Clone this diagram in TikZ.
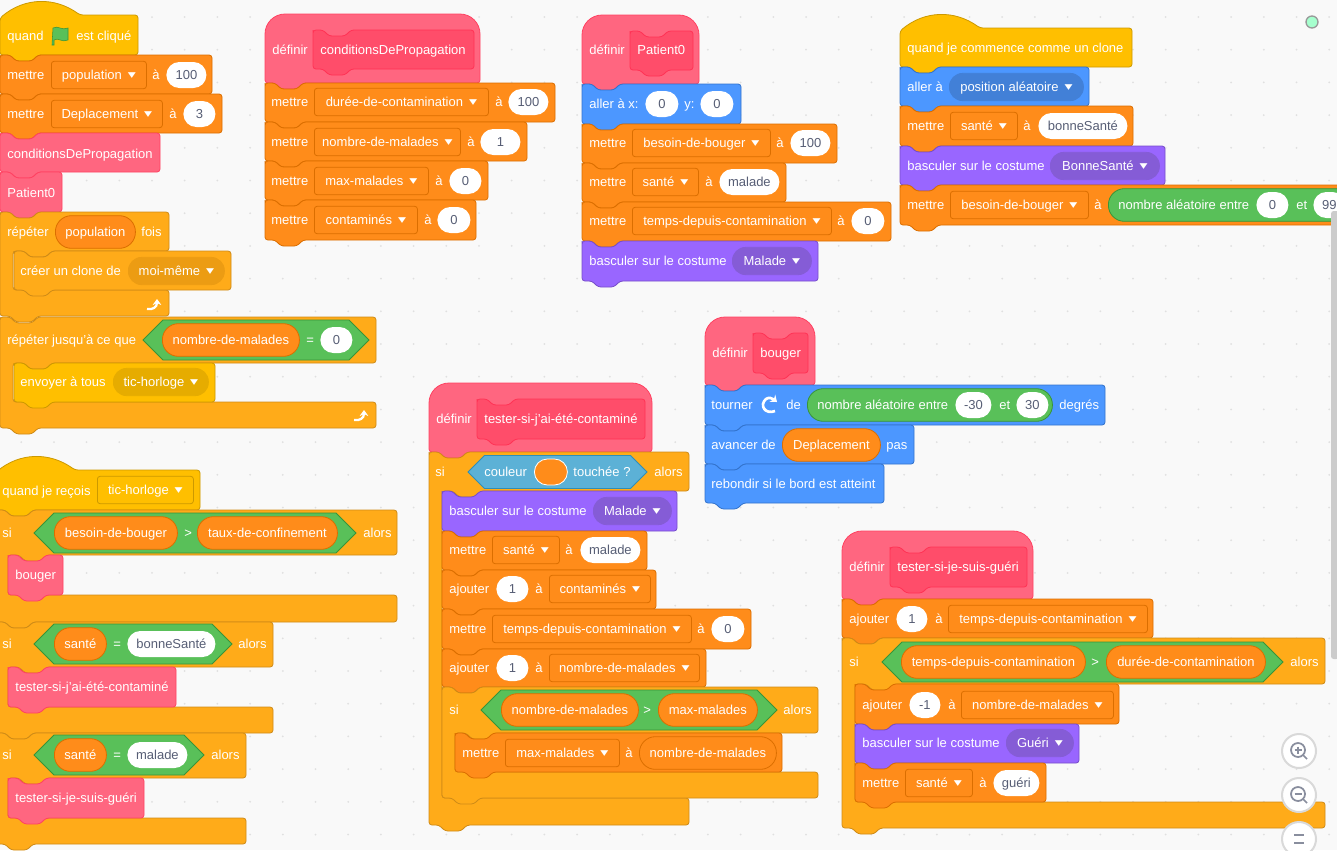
\documentclass[tikz,border=0pt]{standalone}
\usepackage{graphicx}
\usepackage{fontspec}
\setmainfont{Liberation Sans}
\newfontfamily\symfont{DejaVu Sans}
\usetikzlibrary{arrows.meta}
\definecolor{bgc}{HTML}{F9F9F9}
\definecolor{motionc}{HTML}{4C97FF}
\definecolor{motiond}{HTML}{3373CC}
\definecolor{motionm}{HTML}{4280D7}
\definecolor{looksc}{HTML}{9966FF}
\definecolor{looksd}{HTML}{774DCB}
\definecolor{looksm}{HTML}{855CD6}
\definecolor{ctrlc}{HTML}{FFAB19}
\definecolor{ctrld}{HTML}{CF8B17}
\definecolor{ctrlm}{HTML}{EC9C13}
\definecolor{eventc}{HTML}{FFBF00}
\definecolor{eventd}{HTML}{CC9900}
\definecolor{eventm}{HTML}{E6AC00}
\definecolor{varc}{HTML}{FF8C1A}
\definecolor{vard}{HTML}{DB6E00}
\definecolor{myc}{HTML}{FF6680}
\definecolor{myd}{HTML}{FF3355}
\definecolor{procc}{HTML}{FF4D6A}
\definecolor{opc}{HTML}{59C059}
\definecolor{opd}{HTML}{389438}
\definecolor{sensc}{HTML}{5CB1D6}
\definecolor{sensd}{HTML}{2E8EB8}
\definecolor{inkc}{HTML}{575E75}
\newcommand{\dropm}{\hspace{4.5pt}\raisebox{1.6pt}{\resizebox{6pt}{3.6pt}{\symfont ▼}}}
\tikzset{
    pics/stack/.style n args={2}{code={
        \path[pic actions,rounded corners=2.2pt] (0,3) -- (0,0) -- (10,0) -- (16,6) -- (32,6) -- (38,0) -- (#1,0) -- (#1,#2)
            -- (38,#2) -- (32,#2+6) -- (16,#2+6) -- (10,#2) -- (0,#2) -- cycle;
    }},
    pics/hat/.style n args={2}{code={
        \path[pic actions,rounded corners=2.2pt] (0,3) .. controls (25,-18) and (55,-18) .. (80,0) -- (#1,0) -- (#1,#2)
            -- (38,#2) -- (32,#2+6) -- (16,#2+6) -- (10,#2) -- (0,#2) -- cycle;
    }},
    pics/defhat/.style n args={2}{code={
        \path[pic actions] (0,30) [rounded corners=15pt] -- (0,0) -- (#1,0) [rounded corners=2.2pt] -- (#1,#2)
            -- (38,#2) -- (32,#2+6) -- (16,#2+6) -- (10,#2) -- (0,#2) -- cycle;
    }},
    pics/cblock/.style n args={5}{code={
        \path[pic actions,rounded corners=2.2pt] (0,3) -- (0,0) -- (10,0) -- (16,6) -- (32,6) -- (38,0) -- (#1,0) -- (#1,#2)
            -- (52,#2) -- (46,#2+6) -- (30,#2+6) -- (24,#2) -- (13,#2) -- (13,#2+#3) -- (#4,#2+#3) -- (#4,#2+#3+#5)
            -- (38,#2+#3+#5) -- (32,#2+#3+#5+6) -- (16,#2+#3+#5+6) -- (10,#2+#3+#5) -- (0,#2+#3+#5) -- cycle;
    }},
    pics/boolp/.style n args={2}{code={
        \path[pic actions] (0,0) -- (#2,-#2) -- (#1-#2,-#2) -- (#1,0) -- (#1-#2,#2) -- (#2,#2) -- cycle;
    }},
    pics/loopic/.style={code={
        \draw[white,line width=1.7pt,-{Stealth[length=4.5pt,width=6.5pt]}] (-6,5) .. controls (0,6) and (4,3) .. (4,-5);
    }},
    pics/turnic/.style={code={
        \draw[white,line width=2pt,-{Stealth[length=4.5pt,width=7pt]}] (6,6) .. controls (-4,10) and (-10,0) .. (-3,-6) .. controls (0,-8) and (3,-7) .. (8,-3);
    }},
    pics/zoomic/.style={code={
        \draw[zoomb] (0,0) circle (17);
        \draw[zoomi] (-1,-1) circle (7) (4,4) -- (8,8);
    }},
    wd/.style={minimum width=#1*0.75pt},
    dropb/.style={draw=vard,fill=varc,rounded corners=2pt,minimum height=20.5pt},
    dropc/.style={draw=#1,fill=#1,rounded corners=10pt,minimum height=20.5pt},
    pillv/.style={draw=vard,fill=varc,rounded corners=12pt,minimum height=24.5pt},
    inp/.style={fill=white,text=inkc,rounded corners=9.7pt,minimum height=19.5pt},
    motionb/.style={fill=motionc,draw=motiond},
    looksb/.style={fill=looksc,draw=looksd},
    ctrlb/.style={fill=ctrlc,draw=ctrld},
    eventb/.style={fill=eventc,draw=eventd},
    varb/.style={fill=varc,draw=vard},
    myb/.style={fill=myc,draw=myd!70!myc},
    procb/.style={fill=procc,draw=myd},
    opb/.style={fill=opc,draw=opd},
    sensb/.style={fill=sensc,draw=sensd},
    zoomb/.style={fill=white,draw=black!15,line width=1.5pt},
    zoomi/.style={draw=inkc!70,line width=1.3pt},
}
\begin{document}
\begin{tikzpicture}[
        x=0.75pt,y=-0.75pt,line width=0.6pt,
        every node/.style={anchor=west,inner sep=0pt,text=white,text height=8.8pt,text depth=1.7pt,font=\fontsize{9.75}{11}\selectfont},
    ]
    \useasboundingbox (0,0) rectangle (1337,850);
    \clip (0,0) rectangle (1337,850);
    \fill[bgc] (0,0) rectangle (1337,850);
    \foreach \i in {0,...,40}
        \foreach \j in {0,...,25}
            \fill[black!12] (21.2+\i*32.7,17+\j*32.7) circle (1);

    % quand drapeau
    \pic[eventb] at (0,15) {hat={138}{40}};
    \pic[varb] at (0,55) {stack={212}{39}};
    \pic[varb] at (0,94) {stack={222}{39}};
    \pic[myb] at (0,133) {stack={160}{39}};
    \pic[myb] at (0,172) {stack={62}{40}};
    \pic[ctrlb] at (0,212) {cblock={169}{39}{39}{169}{26}};
    \pic[ctrlb] at (14,251) {stack={217}{39}};
    \pic[ctrlb] at (0,317) {cblock={376}{46}{39}{376}{26}};
    \pic[eventb] at (14,363) {stack={201}{39}};
    \node (a1) at (7,36) {quand};
    \fill[opc,draw=opd,line width=.4pt] (53,28) .. controls (58,25) and (62,31) .. (68,28) -- (68,40) .. controls (62,43) and (58,37) .. (54,40) -- (54,45) -- (52,45) -- cycle;
    \node (a2) at (76,36) {est cliqué};
    \node (a3) at (7,75) {mettre};
    \node[dropb,wd=95] (a4) at (51,75) {population\dropm};
    \node (a5) at (152,75) {à};
    \node[inp,wd=40] (a6) at (166,75) {100};
    \node (a7) at (7,114) {mettre};
    \node[dropb,wd=111] (a8) at (51,114) {Deplacement\dropm};
    \node (a9) at (169,114) {à};
    \node[inp,wd=32] (a10) at (183,114) {3};
    \node (a11) at (7,154) {conditionsDePropagation};
    \node (a12) at (7,193) {Patient0};
    \node (a13) at (7,232) {répéter};
    \node[pillv,wd=80] (a14) at (55,232) {population};
    \node (a15) at (141,232) {fois};
    \node (a16) at (20,271) {créer un clone de};
    \node[dropc=ctrlm,wd=96] (a17) at (128,271) {moi-même\dropm};
    \pic at (153,304) {loopic};
    \node (a18) at (7,340) {répéter jusqu'à ce que};
    \pic[opb] at (143,340) {boolp={226}{20}};
    \node[pillv,wd=137] (a19) at (162,340) {nombre-de-malades};
    \node (a20) at (306,340) {=};
    \node[inp,wd=32] (a21) at (320,340) {0};
    \node (a22) at (20,382) {envoyer à tous};
    \node[dropc=eventm,wd=95] (a23) at (113,382) {tic-horloge\dropm};
    \pic at (360,415) {loopic};

    % conditionsDePropagation
    \pic[myb] at (265,14) {defhat={215}{69}};
    \pic[procb] at (313,30) {stack={161}{39}};
    \pic[varb] at (265,83) {stack={290}{39}};
    \pic[varb] at (265,122) {stack={262}{39}};
    \pic[varb] at (265,161) {stack={223}{39}};
    \pic[varb] at (265,200) {stack={211}{40}};
    \node (b1) at (272,50) {définir};
    \node (b2) at (320,50) {conditionsDePropagation};
    \node (b3) at (271,102) {mettre};
    \node[dropb,wd=174] (b4) at (314,102) {durée-de-contamination\dropm};
    \node (b5) at (495,102) {à};
    \node[inp,wd=40] (b6) at (508,102) {100};
    \node (b7) at (271,142) {mettre};
    \node[dropb,wd=146] (b8) at (314,142) {nombre-de-malades\dropm};
    \node (b9) at (467,142) {à};
    \node[inp,wd=40] (b10) at (480,142) {1};
    \node (b11) at (271,181) {mettre};
    \node[dropb,wd=114] (b12) at (314,181) {max-malades\dropm};
    \node (b13) at (435,181) {à};
    \node[inp,wd=32] (b14) at (449,181) {0};
    \node (b15) at (271,220) {mettre};
    \node[dropb,wd=103] (b16) at (314,220) {contaminés\dropm};
    \node (b17) at (424,220) {à};
    \node[inp,wd=33] (b18) at (437,220) {0};

    % Patient0
    \pic[myb] at (582,15) {defhat={117}{69}};
    \pic[procb] at (630,31) {stack={63}{39}};
    \pic[motionb] at (582,84) {stack={159}{40}};
    \pic[varb] at (582,124) {stack={255}{39}};
    \pic[varb] at (582,163) {stack={204}{39}};
    \pic[varb] at (582,202) {stack={309}{39}};
    \pic[looksb] at (582,241) {stack={236}{40}};
    \node (c1) at (589,50) {définir};
    \node (c2) at (637,50) {Patient0};
    \node (c3) at (589,104) {aller à x:};
    \node[inp,wd=33] (c4) at (645,104) {0};
    \node (c5) at (684,104) {y:};
    \node[inp,wd=33] (c6) at (700,104) {0};
    \node (c7) at (589,143) {mettre};
    \node[dropb,wd=138] (c8) at (632,143) {besoin-de-bouger\dropm};
    \node (c9) at (776,143) {à};
    \node[inp,wd=40] (c10) at (790,143) {100};
    \node (c11) at (589,182) {mettre};
    \node[dropb,wd=66] (c12) at (632,182) {santé\dropm};
    \node (c13) at (705,182) {à};
    \node[inp,wd=60] (c14) at (719,182) {malade};
    \node (c15) at (589,221) {mettre};
    \node[dropb,wd=199] (c16) at (632,221) {temps-depuis-contamination\dropm};
    \node (c17) at (837,221) {à};
    \node[inp,wd=33] (c18) at (851,221) {0};
    \node (c19) at (589,261) {basculer sur le costume};
    \node[dropc=looksm,wd=79] (c20) at (732,261) {Malade\dropm};

    % clone
    \pic[eventb] at (900,28) {hat={232}{39}};
    \pic[motionb] at (900,67) {stack={189}{39}};
    \pic[varb] at (900,106) {stack={233}{40}};
    \pic[looksb] at (900,146) {stack={265}{39}};
    \pic[varb] at (900,185) {stack={460}{40}};
    \node (d1) at (907,48) {quand je commence comme un clone};
    \node (d2) at (907,87) {aller à};
    \node[dropc=motionm,wd=134] (d3) at (949,87) {position aléatoire\dropm};
    \node (d4) at (907,126) {mettre};
    \node[dropb,wd=67] (d5) at (950,126) {santé\dropm};
    \node (d6) at (1023,126) {à};
    \node[inp,wd=89] (d7) at (1038,126) {bonneSanté};
    \node (d8) at (907,166) {basculer sur le costume};
    \node[dropc=looksm,wd=109] (d9) at (1050,166) {BonneSanté\dropm};
    \node (d10) at (907,205) {mettre};
    \node[dropb,wd=138] (d11) at (950,205) {besoin-de-bouger\dropm};
    \node (d12) at (1094,205) {à};
    \node[pillv,opb,wd=245] (d13) at (1108,205) {};
    \node (d14) at (1118,205) {nombre aléatoire entre};
    \node[inp,wd=32] (d15) at (1256,205) {0};
    \node (d16) at (1296,205) {et};
    \node[inp,wd=32] (d17) at (1313,205) {99};

    % bouger
    \pic[myb] at (705,317) {defhat={110}{68}};
    \pic[procb] at (753,333) {stack={55}{40}};
    \pic[motionb] at (705,385) {stack={400}{40}};
    \pic[motionb] at (705,425) {stack={209}{39}};
    \pic[motionb] at (705,464) {stack={179}{39}};
    \node (e1) at (712,353) {définir};
    \node (e2) at (760,353) {bouger};
    \node (e3) at (711,405) {tourner};
    \pic at (769,405) {turnic};
    \node (e4) at (786,405) {de};
    \node[pillv,opb,wd=245] (e5) at (807,405) {};
    \node (e6) at (817,405) {nombre aléatoire entre};
    \node[inp,wd=36] (e7) at (955,405) {-30};
    \node (e8) at (999,405) {et};
    \node[inp,wd=32] (e9) at (1016,405) {30};
    \node (e10) at (1059,405) {degrés};
    \node (e11) at (711,445) {avancer de};
    \node[pillv,wd=98] (e12) at (782,445) {Deplacement};
    \node (e13) at (886,445) {pas};
    \node (e14) at (711,484) {rebondir si le bord est atteint};

    % tester-si-j'ai-ete-contamine
    \pic[myb] at (429,383) {defhat={223}{69}};
    \pic[procb] at (477,399) {stack={168}{40}};
    \pic[ctrlb] at (429,452) {cblock={260}{39}{307}{260}{27}};
    \pic[looksb] at (442,491) {stack={235}{40}};
    \pic[varb] at (442,531) {stack={205}{39}};
    \pic[varb] at (442,570) {stack={214}{39}};
    \pic[varb] at (442,609) {stack={309}{40}};
    \pic[varb] at (442,649) {stack={264}{38}};
    \pic[ctrlb] at (442,687) {cblock={376}{46}{39}{376}{26}};
    \pic[varb] at (455,733) {stack={327}{39}};
    \node (f1) at (436,419) {définir};
    \node (f2) at (484,419) {tester-si-j'ai-été-contaminé};
    \node (f3) at (435,472) {si};
    \pic[sensb] at (468,472) {boolp={179}{16.5}};
    \node (f4) at (484,472) {couleur};
    \node[fill=varc,draw=white,rounded corners=9.7pt,minimum height=19.5pt,wd=33] (f5) at (534,472) {};
    \node (f6) at (573,472) {touchée ?};
    \node (f7) at (654,472) {alors};
    \node (f8) at (449,511) {basculer sur le costume};
    \node[dropc=looksm,wd=78] (f9) at (593,511) {Malade\dropm};
    \node (f10) at (449,550) {mettre};
    \node[dropb,wd=67] (f11) at (492,550) {santé\dropm};
    \node (f12) at (565,550) {à};
    \node[inp,wd=60] (f13) at (580,550) {malade};
    \node (f14) at (449,589) {ajouter};
    \node[inp,wd=32] (f15) at (496,589) {1};
    \node (f16) at (535,589) {à};
    \node[dropb,wd=101] (f17) at (549,589) {contaminés\dropm};
    \node (f18) at (449,629) {mettre};
    \node[dropb,wd=199] (f19) at (492,629) {temps-depuis-contamination\dropm};
    \node (f20) at (697,629) {à};
    \node[inp,wd=33] (f21) at (711,629) {0};
    \node (f22) at (449,668) {ajouter};
    \node[inp,wd=32] (f23) at (496,668) {1};
    \node (f24) at (535,668) {à};
    \node[dropb,wd=150] (f25) at (549,668) {nombre-de-malades\dropm};
    \node (f26) at (449,710) {si};
    \pic[opb] at (481,710) {boolp={296}{20}};
    \node[pillv,wd=137] (f27) at (501,710) {nombre-de-malades};
    \node (f28) at (643,710) {>};
    \node[pillv,wd=99] (f29) at (658,710) {max-malades};
    \node (f30) at (783,710) {alors};
    \node (f31) at (462,753) {mettre};
    \node[dropb,wd=114] (f32) at (505,753) {max-malades\dropm};
    \node (f33) at (625,753) {à};
    \node[pillv,wd=137] (f34) at (639,753) {nombre-de-malades};

    % tester-si-je-suis-gueri
    \pic[myb] at (842,531) {defhat={191}{68}};
    \pic[procb] at (890,547) {stack={137}{40}};
    \pic[varb] at (842,599) {stack={311}{39}};
    \pic[ctrlb] at (842,638) {cblock={483}{46}{118}{483}{26}};
    \pic[varb] at (855,684) {stack={264}{40}};
    \pic[looksb] at (855,724) {stack={224}{39}};
    \pic[varb] at (855,763) {stack={191}{39}};
    \node (g1) at (849,567) {définir};
    \node (g2) at (897,567) {tester-si-je-suis-guéri};
    \node (g3) at (849,619) {ajouter};
    \node[inp,wd=31] (g4) at (896,619) {1};
    \node (g5) at (935,619) {à};
    \node[dropb,wd=199] (g6) at (948,619) {temps-depuis-contamination\dropm};
    \node (g7) at (849,662) {si};
    \pic[opb] at (882,662) {boolp={401}{20}};
    \node[pillv,wd=184] (g8) at (901,662) {temps-depuis-contamination};
    \node (g9) at (1091,662) {>};
    \node[pillv,wd=159] (g10) at (1106,662) {durée-de-contamination};
    \node (g11) at (1290,662) {alors};
    \node (g12) at (862,705) {ajouter};
    \node[inp,wd=31] (g13) at (909,705) {-1};
    \node (g14) at (948,705) {à};
    \node[dropb,wd=152] (g15) at (961,705) {nombre-de-malades\dropm};
    \node (g16) at (862,743) {basculer sur le costume};
    \node[dropc=looksm,wd=67] (g17) at (1006,743) {Guéri\dropm};
    \node (g18) at (862,783) {mettre};
    \node[dropb,wd=67] (g19) at (905,783) {santé\dropm};
    \node (g20) at (979,783) {à};
    \node[inp,wd=46] (g21) at (993,783) {guéri};

    % quand je recois
    \pic[eventb] at (-5,470) {hat={205}{40}};
    \pic[ctrlb] at (-5,510) {cblock={402}{45}{40}{402}{27}};
    \pic[myb] at (8,555) {stack={55}{40}};
    \pic[ctrlb] at (-5,622) {cblock={278}{45}{40}{278}{26}};
    \pic[myb] at (8,667) {stack={168}{40}};
    \pic[ctrlb] at (-5,733) {cblock={251}{45}{40}{251}{26}};
    \pic[myb] at (8,778) {stack={136}{40}};
    \node (h1) at (2,491) {quand je reçois};
    \node[draw=eventd,fill=eventc,rounded corners=2pt,minimum height=20.5pt,wd=96] (h2) at (97,490) {tic-horloge\dropm};
    \node (h3) at (2,533) {si};
    \pic[opb] at (34,533) {boolp={322}{20}};
    \node[pillv,wd=123] (h4) at (54,533) {besoin-de-bouger};
    \node (h5) at (184,533) {>};
    \node[pillv,wd=140] (h6) at (197,533) {taux-de-confinement};
    \node (h7) at (363,533) {alors};
    \node (h8) at (15,575) {bouger};
    \node (h9) at (2,644) {si};
    \pic[opb] at (34,644) {boolp={198}{20}};
    \node[pillv,wd=52] (h10) at (54,644) {santé};
    \node (h11) at (113,644) {=};
    \node[inp,wd=88] (h12) at (127,644) {bonneSanté};
    \node (h13) at (238,644) {alors};
    \node (h14) at (15,687) {tester-si-j'ai-été-contaminé};
    \node (h15) at (2,755) {si};
    \pic[opb] at (34,755) {boolp={170}{20}};
    \node[pillv,wd=52] (h16) at (54,755) {santé};
    \node (h17) at (113,755) {=};
    \node[inp,wd=60] (h18) at (127,755) {malade};
    \node (h19) at (211,755) {alors};
    \node (h20) at (15,798) {tester-si-je-suis-guéri};

    % boutons
    \pic at (1299,751) {zoomic};
    \draw[zoomi] (1294.5,750) -- (1301.5,750) (1298,746.5) -- (1298,753.5);
    \pic at (1299,795) {zoomic};
    \draw[zoomi] (1294.5,794) -- (1301.5,794);
    \draw[zoomb] (1299,839) circle (17);
    \draw[zoomi,line width=2pt] (1294,835) -- (1304,835) (1294,843) -- (1304,843);
    \draw[black!40,fill=green!55!cyan!35,line width=1pt] (1312,22) circle (6);
    \fill[black!20,rounded corners=2pt] (1331,211) rectangle (1339,659);
    \end{tikzpicture}
\end{document}
